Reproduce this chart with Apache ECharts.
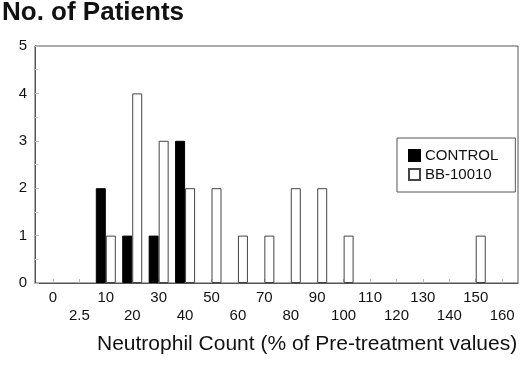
<!DOCTYPE html>
<html>
<head>
<meta charset="utf-8">
<script src="https://cdn.jsdelivr.net/npm/echarts@6/dist/echarts.min.js"></script>
<style>
    html, body { margin: 0; padding: 0; background: #fff; }
    #chart { width: 520px; height: 367px; }
</style>
</head>
<body>
<div id="chart"></div>
<script>
    // x categories, in order along the axis (% of pre-treatment values)
    var categories = ['0', '2.5', '10', '20', '30', '40', '50', '60', '70', '80', '90',
        '100', '110', '120', '130', '140', '150', '160'];
    // no. of patients per category
    var controlValues = [0, 0, 2, 1, 1, 3, 0, 0, 0, 0, 0, 0, 0, 0, 0, 0, 0, 0];
    var bbValues = [0, 0, 1, 4, 3, 2, 2, 1, 1, 2, 2, 1, 0, 0, 0, 0, 1, 0];
    var yTicks = [0, 1, 2, 3, 4, 5];

    (function () {
        "use strict";

        var font = '"Liberation Sans", Arial, sans-serif',
            myChart = echarts.init(document.getElementById('chart')),
            controlData = [], bbData = [], idx = [], i, option;

        for (i = 0; i < categories.length; i++) {
            idx.push(i);
            controlData.push(controlValues[i] ? [i, controlValues[i]] : [i, '-']);
            bbData.push(bbValues[i] ? [i, bbValues[i]] : [i, '-']);
        }

        option = {
            animation: false,
            backgroundColor: '#fff',
            title: {
                text: 'No. of Patients',
                left: 2,
                top: 0,
                padding: 0,
                textStyle: {
                    fontFamily: font,
                    fontSize: 26,
                    fontWeight: 'bold',
                    color: '#111'
                }
            },
            legend: {
                orient: 'vertical',
                left: 397,
                top: 138,
                padding: [10, 17, 10, 11],
                itemWidth: 11,
                itemHeight: 11,
                itemGap: 4,
                borderColor: '#555',
                borderWidth: 1,
                icon: 'rect',
                textStyle: { fontFamily: font, fontSize: 15, color: '#111' },
                data: ['CONTROL', 'BB-10010']
            },
            grid: {
                left: 35,
                right: 2,
                top: 46,
                bottom: 84,
                show: true,
                borderColor: '#555',
                borderWidth: 1
            },
            graphic: [{
                type: 'text',
                left: 97,
                top: 334,
                style: {
                    text: 'Neutrophil Count (% of Pre-treatment values)',
                    font: '21px ' + font,
                    fill: '#111'
                }
            }],
            xAxis: {
                type: 'value',
                min: -0.68,
                max: 17.6,
                splitLine: { show: false },
                axisLine: { onZero: false, lineStyle: { color: '#555' } },
                axisTick: {
                    inside: true,
                    length: 4,
                    customValues: idx,
                    lineStyle: { color: '#bbb' }
                },
                axisLabel: {
                    customValues: idx,
                    fontFamily: font,
                    fontSize: 15,
                    color: '#111',
                    margin: 6,
                    lineHeight: 18,
                    formatter: function (v) {
                        var k = Math.round(v);
                        return k % 2 ? '\n' + categories[k] : categories[k];
                    }
                }
            },
            yAxis: {
                type: 'value',
                min: 0,
                max: 5,
                interval: 1,
                splitLine: { show: false },
                axisLine: { show: true, onZero: false, lineStyle: { color: '#555' } },
                axisTick: { inside: true, length: 4, lineStyle: { color: '#bbb' } },
                minorTick: { show: true, splitNumber: 2, length: 3, lineStyle: { color: '#ccc' } },
                axisLabel: {
                    customValues: yTicks,
                    fontFamily: font,
                    fontSize: 15,
                    color: '#111',
                    margin: 8
                }
            },
            series: [{
                name: 'CONTROL',
                type: 'bar',
                barWidth: 10,
                barGap: '0%',
                itemStyle: { color: '#000', borderColor: '#000', borderWidth: 1 },
                data: controlData
            }, {
                name: 'BB-10010',
                type: 'bar',
                barWidth: 10,
                barGap: '0%',
                itemStyle: { color: '#fff', borderColor: '#444', borderWidth: 1 },
                data: bbData
            }]
        };

        myChart.setOption(option);
    })();
</script>
</body>
</html>
